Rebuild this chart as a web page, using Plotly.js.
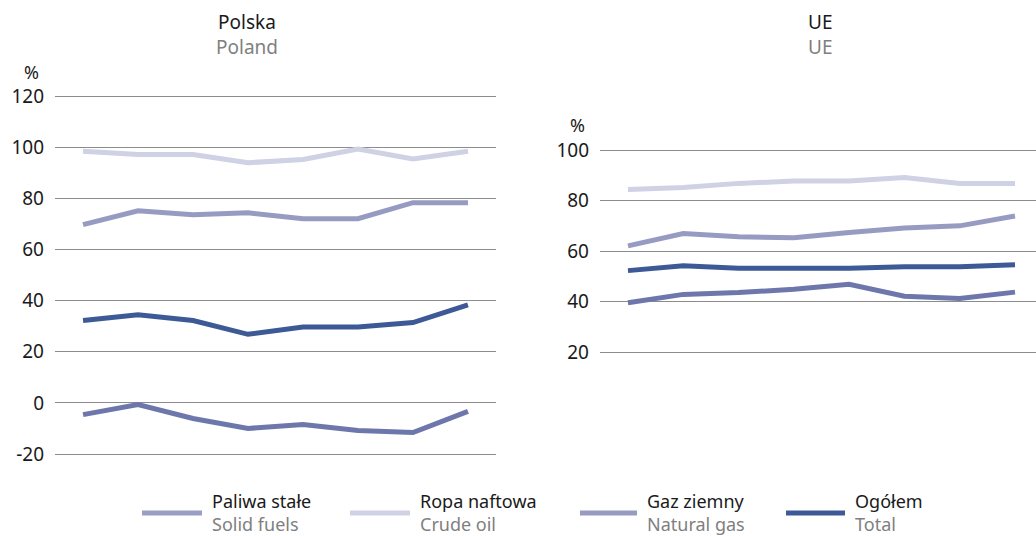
<!DOCTYPE html>
<html>
<head>
<meta charset="utf-8">
<script src="https://cdn.plot.ly/plotly-3.0.1.min.js"></script>
<style>html,body{margin:0;padding:0;background:#fff;}#chart{width:1036px;height:536px;}</style>
</head>
<body>
<div id="chart"></div>
<script>
// Years (x categories, not labelled in the reference)
var years = ['2011','2012','2013','2014','2015','2016','2017','2018'];

// Series names (Polish / English)
var namesPL = ['Paliwa stałe', 'Ropa naftowa', 'Gaz ziemny', 'Ogółem'];
var namesEN = ['Solid fuels', 'Crude oil', 'Natural gas', 'Total'];

// Poland – import dependency, %
var plSolid = [-4.6, -0.7, -6.1, -10.0, -8.5, -10.8, -11.6, -3.3];
var plOil   = [98.4, 97.1, 97.1, 93.9, 95.2, 99.3, 95.4, 98.4];
var plGas   = [69.7, 75.1, 73.6, 74.3, 72.0, 72.0, 78.3, 78.3];
var plTotal = [32.2, 34.5, 32.2, 26.8, 29.7, 29.7, 31.4, 38.3];

// EU – import dependency, %
var euSolid = [39.6, 42.9, 43.6, 44.9, 46.9, 42.2, 41.3, 43.8];
var euOil   = [84.4, 85.2, 86.8, 87.7, 87.7, 89.1, 86.8, 86.8];
var euGas   = [62.1, 67.0, 65.7, 65.3, 67.4, 69.2, 70.0, 73.9];
var euTotal = [52.3, 54.2, 53.2, 53.2, 53.2, 53.8, 53.8, 54.6];

// Axis ticks
var plTicks = [-20, 0, 20, 40, 60, 80, 100, 120];
var euTicks = [20, 40, 60, 80, 100];

var lineColors   = ['#6e77ab', '#cfd1e4', '#979bc2', '#3d5a96'];
var legendColors = ['#9a9dc4', '#cfd1e4', '#979bc2', '#3d5a96'];

var FONT = 'Noto Sans, Open Sans, sans-serif';
var FS = 19;

var plSeries = [plSolid, plOil, plGas, plTotal];
var euSeries = [euSolid, euOil, euGas, euTotal];

var traces = [];
// draw order: lighter first, total on top
var order = [1, 2, 0, 3];
order.forEach(function (i) {
  traces.push({x: years, y: plSeries[i], type: 'scatter', mode: 'lines', name: namesPL[i],
    line: {color: lineColors[i], width: 5}, xaxis: 'x', yaxis: 'y', showlegend: false, hoverinfo: 'skip'});
});
order.forEach(function (i) {
  traces.push({x: years, y: euSeries[i], type: 'scatter', mode: 'lines', name: namesPL[i],
    line: {color: lineColors[i], width: 5}, xaxis: 'x2', yaxis: 'y2', showlegend: false, hoverinfo: 'skip'});
});

var W = 1036, H = 536;
function px(x) { return x / W; }
function py(y) { return 1 - y / H; }

var annotations = [
  {text: 'Polska<br><span style="color:#7f7f7f">Poland</span>', x: px(247), y: py(34), font: {size: FS, color: '#1a1a1a', family: FONT}},
  {text: 'UE<br><span style="color:#7f7f7f">UE</span>', x: px(820), y: py(34), font: {size: FS, color: '#1a1a1a', family: FONT}},
  {text: '%', x: px(31), y: py(72), font: {size: 18, color: '#1a1a1a', family: FONT}},
  {text: '%', x: px(577), y: py(125), font: {size: 18, color: '#1a1a1a', family: FONT}}
].map(function (a) {
  return Object.assign({xref: 'paper', yref: 'paper', showarrow: false, xanchor: 'center', yanchor: 'middle'}, a);
});

var shapes = [];
var legLineX = [[142, 202], [350, 410], [580, 637], [786, 845]];
var legTextX = [212, 420, 647, 855];
for (var i = 0; i < 4; i++) {
  shapes.push({type: 'line', xref: 'paper', yref: 'paper',
    x0: px(legLineX[i][0]), x1: px(legLineX[i][1]), y0: py(513), y1: py(513),
    line: {color: legendColors[i], width: 5}});
  annotations.push({xref: 'paper', yref: 'paper', showarrow: false, xanchor: 'left', yanchor: 'middle', align: 'left',
    x: px(legTextX[i] - 2), y: py(512),
    text: namesPL[i] + '<br><span style="color:#7f7f7f">' + namesEN[i] + '</span>',
    font: {size: 18, color: '#1a1a1a', family: FONT}});
}

var yCommon = {
  showgrid: true, gridcolor: '#8c8c8c', gridwidth: 1, zeroline: false, showline: false,
  ticks: '', tickfont: {size: FS, color: '#1a1a1a', family: FONT}, ticklabelstandoff: 10,
  fixedrange: true
};
var xCommon = {
  type: 'category', showgrid: false, zeroline: false, showline: false, showticklabels: false, ticks: '',
  fixedrange: true
};

// tiny padding so the end gridlines (120, -20, 20) are drawn
var ppu1 = (454 - 96) / 140, pad1 = 1.5 / ppu1;
var ppu2 = (352.3 - 150) / 80, pad2 = 1.5 / ppu2;

var layout = {
  width: W, height: H,
  margin: {l: 0, r: 0, t: 0, b: 0},
  paper_bgcolor: '#ffffff', plot_bgcolor: 'rgba(0,0,0,0)',
  showlegend: false,
  font: {family: FONT},
  xaxis: Object.assign({}, xCommon, {domain: [px(55), px(496)], range: [-0.51, 7.51], anchor: 'y'}),
  yaxis: Object.assign({}, yCommon, {domain: [py(454 + 1.5), py(96 - 1.5)], range: [-20 - pad1, 120 + pad1], tickvals: plTicks, ticktext: plTicks.map(String), anchor: 'x'}),
  xaxis2: Object.assign({}, xCommon, {domain: [px(600), 1], range: [-0.506, 7.38], anchor: 'y2'}),
  yaxis2: Object.assign({}, yCommon, {domain: [py(352.3 + 1.5), py(150 - 1.5)], range: [20 - pad2, 100 + pad2], tickvals: euTicks, ticktext: euTicks.map(String), anchor: 'x2'}),
  annotations: annotations,
  shapes: shapes
};

Plotly.newPlot('chart', traces, layout, {displayModeBar: false, staticPlot: true});
</script>
</body>
</html>
